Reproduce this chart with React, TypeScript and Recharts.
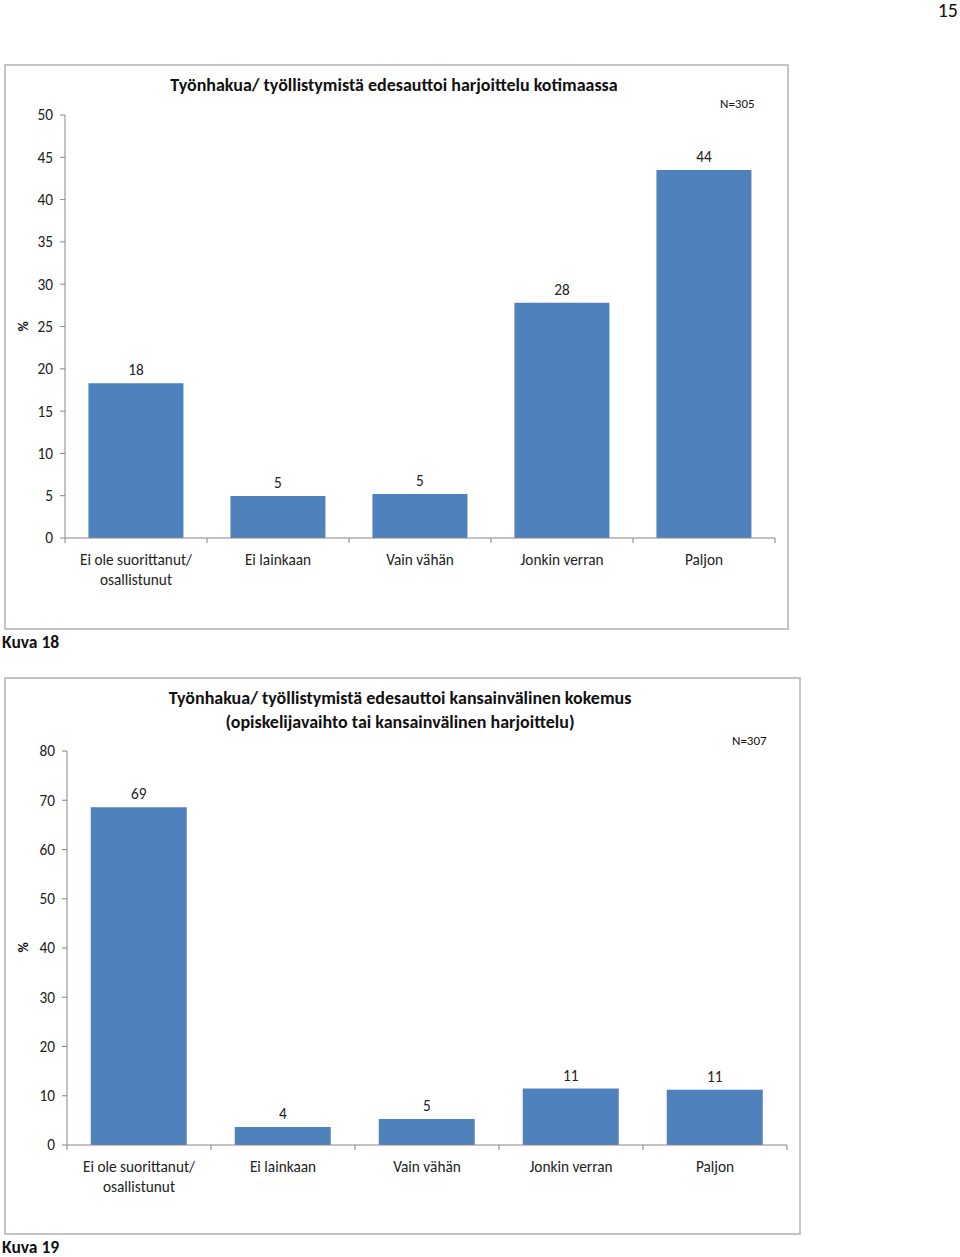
import React from "react"
import { BarChart, Bar, XAxis, YAxis, LabelList } from "recharts"

const categories = ["Ei ole suorittanut/ osallistunut", "Ei lainkaan", "Vain vähän", "Jonkin verran", "Paljon"]
const kotimaaValues = [18.3, 4.95, 5.2, 27.8, 43.5]
const kansainvalValues = [68.6, 3.65, 5.3, 11.45, 11.2]
const ticks18 = [0, 5, 10, 15, 20, 25, 30, 35, 40, 45, 50]
const ticks19 = [0, 10, 20, 30, 40, 50, 60, 70, 80]

const data18 = categories.map((c, i) => ({ cat: c, v: kotimaaValues[i] }))
const data19 = categories.map((c, i) => ({ cat: c, v: kansainvalValues[i] }))

const FONT = "Carlito, Lato, 'Liberation Sans', sans-serif"
const AXIS = "#868686"
const BLUE = "#4F81BD"
const FS = 15.3

function CatTick(props: any) {
  const { x, y, payload, index, half, count } = props
  const val: string = payload.value
  const lines = val.includes("/ ") ? [val.split("/ ")[0] + "/", val.split("/ ")[1]] : [val]
  return (
    <g>
      <line x1={x - half} x2={x - half} y1={y} y2={y + 5} stroke={AXIS} />
      {index === count - 1 && <line x1={x + half} x2={x + half} y1={y} y2={y + 5} stroke={AXIS} />}
      <text x={x} y={y + 27} textAnchor="middle" fill="#222" fontSize={FS} fontFamily={FONT}>
        {lines.map((l, i) => (
          <tspan key={i} x={x} dy={i === 0 ? 0 : 20}>{l}</tspan>
        ))}
      </text>
    </g>
  )
}

const txt: React.CSSProperties = { position: "absolute", fontFamily: FONT, color: "#111", whiteSpace: "nowrap" }

export default function App() {
  return (
    <div style={{ position: "absolute", left: 0, top: 0, width: 960, height: 1257, background: "#fff", fontFamily: FONT }}>
      <div style={{ ...txt, right: 2, top: 0, fontSize: 20, lineHeight: "20px" }}>15</div>

      <div style={{ position: "absolute", left: 4, top: 64, width: 781, height: 562, border: "2px solid #c4c4c4" }} />
      <div style={{ position: "absolute", left: 4, top: 677, width: 793, height: 554, border: "2px solid #c4c4c4" }} />

      <div style={{ position: "absolute", left: 0, top: 0 }}>
        <BarChart width={960} height={660} data={data18} margin={{ top: 115, right: 185, left: 15, bottom: 62 }} barCategoryGap="16.5%">
          <XAxis dataKey="cat" height={60} axisLine={{ stroke: AXIS }} tickLine={false} tickSize={0} tickMargin={0} interval={0}
            tick={(p: any) => <CatTick {...p} half={71} count={categories.length} />} />
          <YAxis width={50} domain={[0, 50]} ticks={ticks18} interval={0} axisLine={{ stroke: AXIS }} tickLine={{ stroke: AXIS }}
            tickSize={5} tickMargin={7} tick={{ fill: "#222", fontSize: FS, fontFamily: FONT }} />
          <Bar dataKey="v" fill={BLUE} isAnimationActive={false}>
            <LabelList dataKey="v" position="top" offset={8} formatter={(v: any) => Math.round(Number(v))}
              style={{ fill: "#222", fontSize: FS, fontFamily: FONT }} />
          </Bar>
        </BarChart>
      </div>

      <div style={{ position: "absolute", left: 0, top: 620 }}>
        <BarChart width={960} height={640} data={data19} margin={{ top: 131, right: 173, left: 17, bottom: 55 }} barCategoryGap="16.5%">
          <XAxis dataKey="cat" height={60} axisLine={{ stroke: AXIS }} tickLine={false} tickSize={0} tickMargin={0} interval={0}
            tick={(p: any) => <CatTick {...p} half={72} count={categories.length} />} />
          <YAxis width={50} domain={[0, 80]} ticks={ticks19} interval={0} axisLine={{ stroke: AXIS }} tickLine={{ stroke: AXIS }}
            tickSize={5} tickMargin={7} tick={{ fill: "#222", fontSize: FS, fontFamily: FONT }} />
          <Bar dataKey="v" fill={BLUE} isAnimationActive={false}>
            <LabelList dataKey="v" position="top" offset={8} formatter={(v: any) => Math.round(Number(v))}
              style={{ fill: "#222", fontSize: FS, fontFamily: FONT }} />
          </Bar>
        </BarChart>
      </div>

      <div style={{ ...txt, left: 94, width: 600, textAlign: "center", top: 75, fontSize: 18, fontWeight: 700, lineHeight: "20px" }}>
        Työnhakua/ työllistymistä edesauttoi harjoittelu kotimaassa
      </div>
      <div style={{ ...txt, left: 720, top: 96, fontSize: 13 }}>N=305</div>
      <div style={{ ...txt, left: 18, top: 318, fontSize: 14, fontWeight: 700, transform: "rotate(-90deg)" }}>%</div>
      <div style={{ ...txt, left: 2, top: 631, fontSize: 17.5, fontWeight: 700 }}>Kuva 18</div>

      <div style={{ ...txt, left: 100, width: 600, textAlign: "center", top: 686, fontSize: 18, fontWeight: 700, lineHeight: "24px" }}>
        Työnhakua/ työllistymistä edesauttoi kansainvälinen kokemus<br />(opiskelijavaihto tai kansainvälinen harjoittelu)
      </div>
      <div style={{ ...txt, left: 732, top: 733, fontSize: 13 }}>N=307</div>
      <div style={{ ...txt, left: 18, top: 939, fontSize: 14, fontWeight: 700, transform: "rotate(-90deg)" }}>%</div>
      <div style={{ ...txt, left: 2, top: 1236, fontSize: 17.5, fontWeight: 700 }}>Kuva 19</div>
    </div>
  )
}
